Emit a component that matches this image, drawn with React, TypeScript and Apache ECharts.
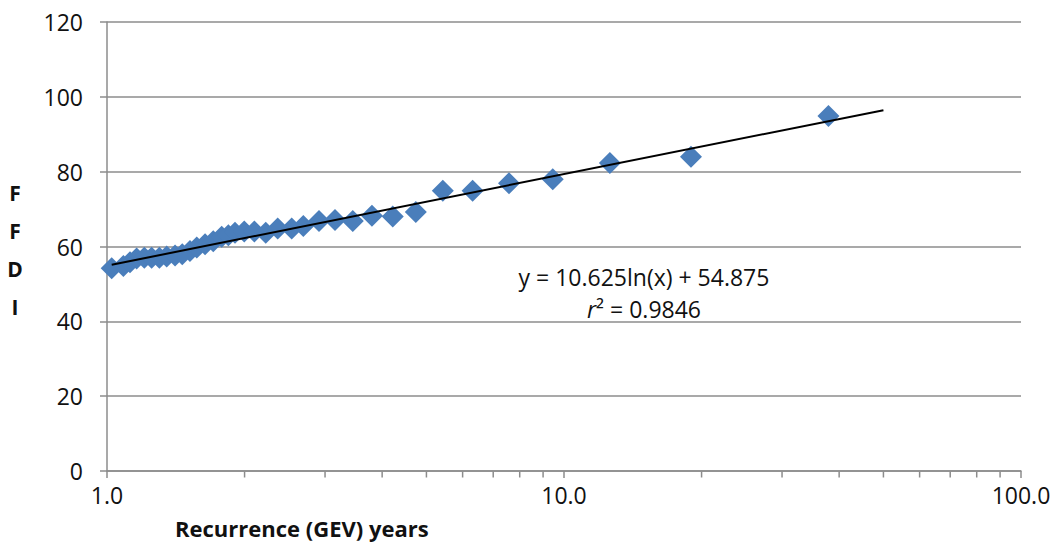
import React, { useEffect, useRef } from "react";
import * as echarts from "echarts";

// Recurrence (GEV) years
const recurrence = [
  1.024, 1.086, 1.123, 1.161, 1.207, 1.252, 1.302, 1.351, 1.409, 1.461, 1.519, 1.572,
  1.639, 1.708, 1.782, 1.843, 1.906, 1.997, 2.101, 2.225, 2.363, 2.536, 2.689, 2.91,
  3.154, 3.45, 3.8, 4.22, 4.74, 5.43, 6.31, 7.58, 9.45, 12.6, 18.96, 37.9,
];
// FFDI values
const ffdi = [
  54.2, 54.8, 55.8, 56.8, 57, 57, 57, 57.3, 57.6, 57.9, 58.8, 59.7,
  60.6, 61.4, 62.6, 63, 63.7, 64, 64, 63.7, 64.8, 64.8, 65.5, 66.8,
  67.1, 66.8, 68.2, 68, 69.2, 74.9, 74.9, 76.9, 78, 82.3, 84, 94.9,
];
// Logarithmic trendline y = 10.625ln(x) + 54.875, end points
const trendX = [1.024, 50];
const trendY = [55.13, 96.44];
// minor tick positions of the log axis
const minorTicks = [2, 3, 4, 5, 6, 7, 8, 9, 20, 30, 40, 50, 60, 70, 80, 90];
const yTicks = { min: 0, max: 120, interval: 20 };
const equationText = "y = 10.625ln(x) + 54.875";
const r2Text = "0.9846";

const FONT = "'Open Sans', 'Noto Sans', sans-serif";
const GRAY = "#8c8c8c";

export default function App() {
  const ref = useRef<HTMLDivElement>(null);
  useEffect(() => {
    if (!ref.current) return;
    const chart = echarts.init(ref.current, undefined, { renderer: "svg" });
    chart.setOption({
      animation: false,
      backgroundColor: "#ffffff",
      grid: { left: 107, right: 36, top: 22, bottom: 72, containLabel: false },
      xAxis: {
        type: "log",
        logBase: 10,
        min: 1,
        max: 100,
        axisLine: { show: true, onZero: false, lineStyle: { color: GRAY, width: 1.5 } },
        axisTick: { show: true, length: 7, lineStyle: { color: GRAY, width: 1.5 } },
        splitLine: { show: false },
        axisLabel: {
          fontFamily: FONT,
          fontSize: 23,
          color: "#111",
          margin: 12,
          formatter: (v: number) => v.toFixed(1),
        },
      },
      yAxis: {
        type: "value",
        min: yTicks.min,
        max: yTicks.max,
        interval: yTicks.interval,
        axisLine: { show: true, lineStyle: { color: GRAY, width: 1.5 } },
        axisTick: { show: true, length: 7, lineStyle: { color: GRAY, width: 1.5 } },
        splitLine: { show: true, lineStyle: { color: GRAY, width: 1.5 } },
        axisLabel: { fontFamily: FONT, fontSize: 23, color: "#111", margin: 24 },
      },
      series: [
        {
          type: "scatter",
          data: minorTicks.map((x) => [x, 0]),
          symbol: "rect",
          symbolSize: [1.5, 6],
          symbolOffset: [0, 3.5],
          itemStyle: { color: GRAY, opacity: 1 },
          clip: false,
          silent: true,
          z: 1,
        },
        {
          type: "scatter",
          data: recurrence.map((x, i) => [x, ffdi[i]]),
          symbol: "diamond",
          symbolSize: 22,
          itemStyle: { color: "#4a7ebb", opacity: 1 },
          clip: false,
          z: 3,
        },
        {
          type: "line",
          data: trendX.map((x, i) => [x, trendY[i]]),
          showSymbol: false,
          lineStyle: { color: "#000", width: 2 },
          z: 4,
        },
      ],
      graphic: [
        {
          type: "text",
          x: 175,
          y: 528,
          style: {
            text: "Recurrence (GEV) years",
            fontFamily: FONT,
            fontSize: 22,
            fontWeight: "bold",
            fill: "#111",
            verticalAlign: "middle",
          },
        },
        {
          type: "text",
          x: 15,
          y: 250,
          style: {
            text: "F\nF\nD\nI",
            fontFamily: FONT,
            fontSize: 21,
            fontWeight: "bold",
            lineHeight: 38,
            fill: "#111",
            align: "center",
            verticalAlign: "middle",
          },
        },
        {
          type: "text",
          x: 644,
          y: 277,
          style: {
            text: equationText,
            fontFamily: FONT,
            fontSize: 23,
            fill: "#111",
            align: "center",
            verticalAlign: "middle",
          },
        },
        {
          type: "text",
          x: 644,
          y: 309,
          style: {
            text: "{i|r}² = " + r2Text,
            fontFamily: FONT,
            fontSize: 23,
            fill: "#111",
            align: "center",
            verticalAlign: "middle",
            rich: {
              i: { fontFamily: FONT, fontSize: 23, fontStyle: "italic", fill: "#111" },
            },
          },
        },
      ],
    });
    return () => chart.dispose();
  }, []);
  return <div ref={ref} style={{ width: 1057, height: 543, position: "absolute", left: 0, top: 0 }} />;
}
